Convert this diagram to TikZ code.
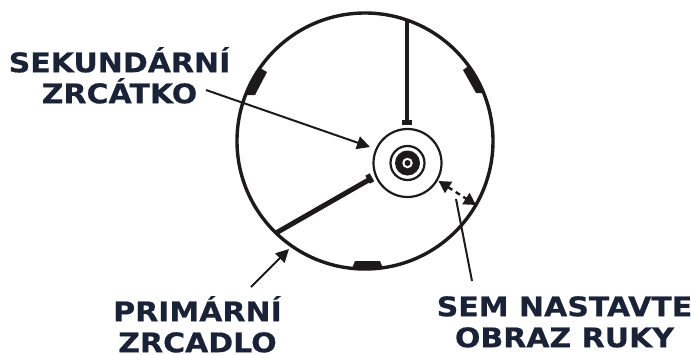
\documentclass[tikz,border=0pt]{standalone}
\usepackage{fontspec}
\setmainfont{DejaVu Sans}[BoldFeatures={FakeStretch=1.11,FakeBold=0.6}]
\usetikzlibrary{arrows.meta,calc}
\definecolor{popisModra}{HTML}{1A2238}
\definecolor{cernaTubus}{HTML}{1C1A1B}
\tikzset{
  popis/.style={font=\fontsize{27}{31}\selectfont\bfseries,text=popisModra,align=center,inner sep=0pt},
  sipka/.style={cernaTubus,line width=2pt,-{Triangle[length=13pt,width=13pt]}},
  drzak/.style={cernaTubus,line width=4pt},
  podlozka/.style={fill=cernaTubus,draw=none}
}
\begin{document}
\begin{tikzpicture}[x=1pt,y=-1pt]
\useasboundingbox (0,0) rectangle (691,354);
% tubus a sekundarni drzak
\node[draw=cernaTubus,line width=3.4pt,circle,minimum size=256pt,inner sep=0pt] (tubus) at (365,141) {};
\node[draw=cernaTubus,line width=2.2pt,circle,minimum size=68pt,inner sep=0pt,fill=white] (drzak) at (407.5,163) {};
\node[draw=cernaTubus,line width=2.2pt,circle,minimum size=34pt,inner sep=0pt] (prstenec) at (drzak.center) {};
\node[fill=cernaTubus,circle,minimum size=25pt,inner sep=0pt] (kotouc) at (drzak.center) {};
\node[fill=white,circle,minimum size=10.5pt,inner sep=0pt] (otvor) at (drzak.center) {};
\node[fill=cernaTubus,circle,minimum size=6pt,inner sep=0pt] (stred) at (drzak.center) {};
% vzpery
\coordinate (horni) at (407,19);
\coordinate (hornikonec) at (407,124);
\coordinate (spodni) at (276,233);
\coordinate (spodnikonec) at (372,178);
\draw[drzak] (horni)--(hornikonec);
\draw[drzak,line width=5pt] (spodni)--(spodnikonec);
\draw[cernaTubus,line width=5pt] (402,122.5)--(412,122.5);
\draw[cernaTubus,line width=5pt] (367.5,174.5)--(372,182.5);
% podlozky
\fill[podlozka] (260,68)--(267,72)--(255,95)--(245.6,95)--(252,81)--cycle;
\fill[podlozka] (463,70)--(468.7,66)--(477.5,80)--(483.7,93)--(476,93)--cycle;
\fill[podlozka] (352,268.5)--(355,261)--(380,261)--(383,268.5)--cycle;
% popisky
\node[popis,anchor=north] (sekundarni) at (119.5,47) {SEKUNDÁRNÍ\\ZRCÁTKO};
\node[popis,anchor=north] (primarni) at (197.5,296) {PRIMÁRNÍ\\ZRCADLO};
\node[popis,anchor=north] (ruka) at (564.5,296) {SEM NASTAVTE\\OBRAZ RUKY};
% sipky
\coordinate (sek1) at (206,90);
\coordinate (sek2) at (370,147);
\coordinate (pri1) at (251,287);
\coordinate (pri2) at (289,249);
\coordinate (ruk1) at (472,281);
\coordinate (ruk2) at (456,199);
\coordinate (obr1) at (438.5,181);
\coordinate (obr2) at (476,205);
\draw[sipka] (sek1)--(sek2);
\draw[sipka] (pri1)--(pri2);
\draw[cernaTubus,line width=2pt] (ruk1)--(ruk2);
\draw[cernaTubus,line width=2.4pt,dash pattern=on 5pt off 4pt,{Triangle[length=12pt,width=13pt]}-{Triangle[length=12pt,width=13pt]}] (obr1)--(obr2);
\end{tikzpicture}
\end{document}
